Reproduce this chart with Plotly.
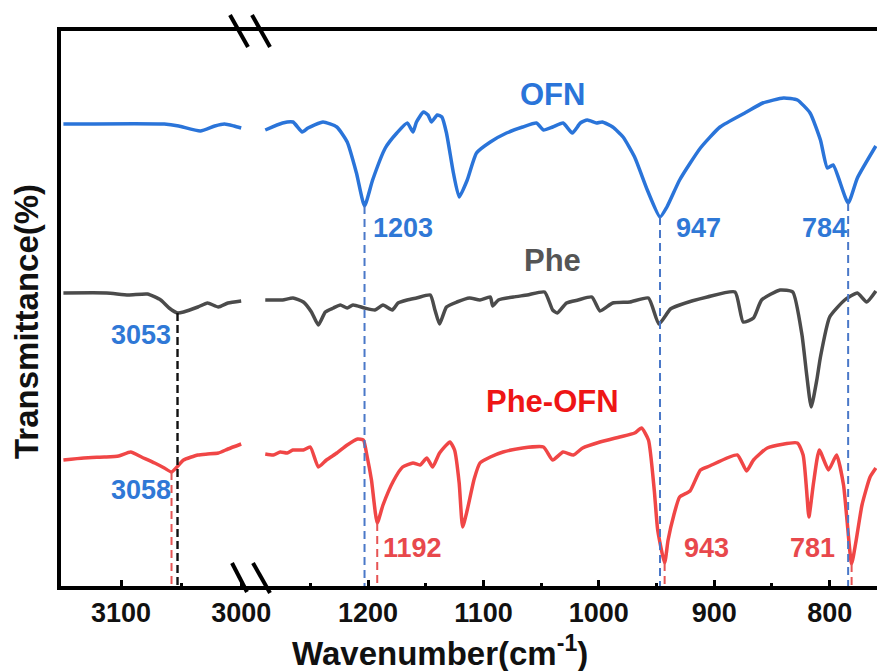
import numpy as np
import plotly.graph_objects as go

# ---- FTIR spectra, high-wavenumber window (cm-1) ----
ofn_hi_wn = [3148, 3064, 3052, 3034, 3022, 3014, 3006, 3000]
ofn_hi_t = [92.4, 92.4, 92.0, 91.0, 92.0, 92.4, 92.0, 91.6]

phe_hi_wn = [3148, 3112, 3094, 3078, 3067, 3060, 3053, 3048, 3036, 3028, 3019, 3011, 3000]
phe_hi_t = [58.6, 58.6, 58.2, 58.4, 57.2, 55.6, 54.6, 54.8, 55.8, 56.6, 55.8, 56.6, 57.0]

pheofn_hi_wn = [3148, 3131, 3114, 3102, 3092, 3083, 3072, 3064, 3058, 3052, 3048, 3036,
                3028, 3019, 3011, 3000]
pheofn_hi_t = [25.2, 25.6, 25.8, 26.0, 26.8, 25.8, 24.6, 23.6, 22.8, 24.2, 25.2, 26.2,
               26.4, 26.6, 27.4, 28.4]

# ---- fingerprint window (cm-1) ----
ofn_lo_wn = [1289, 1274, 1265, 1257, 1252, 1239, 1227, 1218, 1210, 1203, 1196, 1185,
             1175, 1166, 1161, 1158, 1152, 1148, 1145, 1140, 1136, 1132, 1126, 1121,
             1114, 1106, 1094, 1080, 1066, 1054, 1048, 1040, 1031, 1023, 1016, 1010,
             1002, 997, 988, 979, 969, 958, 947, 941, 930, 912, 895, 872, 858, 840,
             828, 817, 808, 802, 797, 784, 776, 760]
ofn_lo_t = [91.2, 92.6, 92.8, 90.8, 91.6, 92.8, 91.8, 88.8, 82.6, 76.0, 81.2, 87.6,
            90.6, 92.6, 90.8, 92.8, 94.8, 94.2, 92.8, 94.2, 93.8, 90.6, 82.6, 77.8,
            81.2, 86.6, 88.8, 90.6, 91.8, 92.6, 91.2, 91.8, 92.6, 90.6, 92.6, 93.2,
            92.6, 92.8, 91.8, 89.8, 85.8, 79.2, 73.8, 75.8, 81.2, 87.6, 91.8, 94.8,
            96.6, 97.6, 97.2, 94.6, 89.2, 83.6, 84.2, 76.6, 81.6, 88.0]

phe_lo_wn = [1289, 1274, 1265, 1256, 1249, 1243, 1237, 1230, 1224, 1218, 1213, 1203,
             1194, 1187, 1179, 1174, 1166, 1158, 1146, 1142, 1138, 1132, 1123, 1112,
             1103, 1094, 1092, 1087, 1074, 1062, 1047, 1040, 1036, 1028, 1018, 1006,
             999, 988, 973, 957, 948, 938, 930, 906, 882, 875, 866, 859, 843, 832,
             824, 820, 816, 811, 808, 800, 787, 776, 768, 760]
phe_lo_t = [57.2, 57.2, 57.6, 56.8, 54.8, 52.2, 54.8, 55.6, 56.2, 55.6, 56.2, 55.6,
            55.2, 56.2, 55.2, 56.6, 57.2, 57.6, 58.2, 55.2, 52.4, 55.8, 56.8, 57.6,
            57.2, 57.8, 56.0, 57.2, 57.8, 58.2, 58.8, 55.2, 54.6, 56.6, 57.2, 57.8,
            55.0, 56.6, 56.8, 57.6, 52.4, 55.4, 56.2, 57.8, 58.8, 52.8, 53.6, 57.2,
            59.2, 58.8, 50.2, 42.4, 35.8, 41.4, 45.8, 53.8, 57.2, 58.6, 56.8, 59.0]

pheofn_lo_wn = [1289, 1282, 1276, 1270, 1265, 1256, 1250, 1243, 1236, 1227, 1218, 1209,
                1204, 1201, 1197, 1192, 1187, 1178, 1170, 1161, 1155, 1149, 1144, 1138,
                1129, 1125, 1121, 1118, 1114, 1108, 1103, 1094, 1083, 1066, 1048, 1040,
                1031, 1022, 1014, 999, 982, 969, 963, 957, 952, 949, 943, 940, 935, 930,
                921, 912, 904, 880, 872, 866, 854, 828, 823, 820, 818, 814, 809, 801,
                794, 788, 785, 781, 777, 772, 765, 760]
pheofn_lo_t = [26.4, 26.2, 26.8, 26.6, 27.2, 27.2, 27.8, 23.8, 25.2, 26.6, 28.2, 29.4,
               29.2, 26.2, 21.2, 12.6, 16.2, 21.0, 23.8, 24.6, 24.2, 25.6, 23.8, 26.6,
               28.8, 27.2, 20.6, 11.8, 15.2, 21.4, 24.6, 25.8, 26.8, 27.6, 27.8, 25.2,
               26.8, 26.2, 27.6, 28.8, 29.8, 30.6, 31.6, 29.2, 19.2, 11.2, 4.6, 9.2,
               14.2, 17.8, 19.0, 23.2, 24.0, 26.2, 23.0, 25.2, 27.6, 28.6, 26.2, 19.2,
               13.8, 20.6, 27.2, 23.2, 26.2, 20.2, 13.2, 4.4, 9.2, 16.2, 21.8, 23.6]

# tick labels of the two windows
hi_ticks = [3100, 3000]
lo_ticks = [1200, 1100, 1000, 900, 800]

# marked band positions (cm-1)
ofn_peaks = [1203, 947, 784]
phe_peaks = [3053]
pheofn_peaks = [3058, 1192, 943, 781]

BLUE = "#2a74d9"
GRAY = "#4b4b4b"
RED = "#f04646"
BLUE_TXT = "#2f78d6"
RED_TXT = "#e8484c"
FONT = "Liberation Sans, Arial, sans-serif"

fig = go.Figure()

series = [
    (ofn_hi_wn, ofn_hi_t, ofn_lo_wn, ofn_lo_t, BLUE),
    (phe_hi_wn, phe_hi_t, phe_lo_wn, phe_lo_t, GRAY),
    (pheofn_hi_wn, pheofn_hi_t, pheofn_lo_wn, pheofn_lo_t, RED),
]
for hw, ht, lw, lt, col in series:
    line = dict(color=col, width=3.5, shape="spline", smoothing=0.5)
    fig.add_trace(go.Scatter(x=hw, y=ht, mode="lines", line=line,
                             xaxis="x", yaxis="y", showlegend=False))
    fig.add_trace(go.Scatter(x=lw, y=lt, mode="lines", line=line,
                             xaxis="x2", yaxis="y", showlegend=False))


def band_value(wn, hw, ht, lw, lt):
    if wn > 2000:
        return float(np.interp(wn, hw[::-1], ht[::-1]))
    return float(np.interp(wn, lw[::-1], lt[::-1]))


# dashed guide lines from each marked band down to the axis
guides = [
    (ofn_peaks, series[0], "#4a78c8", "8px,5px", 2),
    (phe_peaks, series[1], "#111111", "8px,4px", 2.4),
    (pheofn_peaks, series[2], "#e65454", "8px,5px", 2),
]
for peaks, s, col, dash, w in guides:
    for wn in peaks:
        v = band_value(wn, *s[:4])
        fig.add_trace(go.Scatter(
            x=[wn, wn], y=[v, 0], mode="lines",
            line=dict(color=col, width=w, dash=dash),
            xaxis="x" if wn > 2000 else "x2", yaxis="y", showlegend=False))

# band labels: (anchor, x shift, y position, colour)
label_style = {
    1203: ("left", 6, 71.6, BLUE_TXT),
    947: ("left", 14, 71.6, BLUE_TXT),
    784: ("right", 1, 71.6, BLUE_TXT),
    3053: ("right", -5, 50.2, BLUE_TXT),
    3058: ("right", 1, 19.2, BLUE_TXT),
    1192: ("left", 4, 7.6, RED_TXT),
    943: ("left", 17, 7.6, RED_TXT),
    781: ("right", -15, 7.6, RED_TXT),
}
for wn in ofn_peaks + phe_peaks + pheofn_peaks:
    anchor, sh, yy, col = label_style[wn]
    fig.add_annotation(x=wn, y=yy, xref="x" if wn > 2000 else "x2", yref="y",
                       text=f"<b>{wn}</b>", showarrow=False, xanchor=anchor,
                       yanchor="middle", xshift=sh,
                       font=dict(family=FONT, size=27, color=col))

# sample names
for name, yy, col in [("OFN", 98.4, BLUE), ("Phe", 65.2, "#555555"),
                      ("Phe-OFN", 37.0, "#ee1515")]:
    fig.add_annotation(x=1040, y=yy, xref="x2", yref="y", text=f"<b>{name}</b>",
                       showarrow=False, xanchor="center", yanchor="middle",
                       font=dict(family=FONT, size=31, color=col))

# axis titles
fig.add_annotation(x=0.4645, y=0, xref="paper", yref="paper", yshift=-65,
                   text="<b>Wavenumber(cm<sup>-1</sup>)</b>", showarrow=False,
                   xanchor="center", yanchor="middle",
                   font=dict(family=FONT, size=33, color="#111111"))
fig.add_annotation(x=0, y=0.4757, xref="paper", yref="paper", xshift=-34,
                   text="<b>Transmittance(%)</b>", showarrow=False, textangle=-90,
                   xanchor="center", yanchor="middle",
                   font=dict(family=FONT, size=33, color="#111111"))

# axis break marks
split = (252 - 61) / 816
breaks = [
    (1, -22, 16, -4, -16), (1, 0, 16, 18, -16),
    (0, -20, 23, -5, -6), (0, 1, 23, 18, -7),
]
for ya, x0, y0, x1, y1 in breaks:
    fig.add_shape(type="line", xref="paper", yref="paper",
                  xsizemode="pixel", ysizemode="pixel",
                  xanchor=split, yanchor=ya, x0=x0, y0=y0, x1=x1, y1=y1,
                  line=dict(color="black", width=4))

xcommon = dict(showline=True, linecolor="black", linewidth=4, mirror=True,
               showgrid=False, zeroline=False, ticks="inside", ticklen=6,
               tickwidth=3, tickcolor="black", automargin=False,
               tickfont=dict(family=FONT, size=27, color="#111111", weight="bold"),
               minor=dict(dtick=50, ticks="inside", ticklen=3, tickwidth=3,
                          tickcolor="black"),
               anchor="y")

fig.update_layout(
    width=877, height=671, autosize=False,
    margin=dict(l=61, r=0, t=31, b=85, autoexpand=False),
    plot_bgcolor="white", paper_bgcolor="white",
    xaxis=dict(domain=[0, split], range=[3150, 2991], tickvals=hi_ticks,
               **xcommon),
    xaxis2=dict(domain=[split, 1], range=[1300.5, 759], tickvals=lo_ticks,
                **xcommon),
    yaxis=dict(range=[0, 111], showline=True, linecolor="black", linewidth=4,
               showgrid=False, zeroline=False, ticks="", showticklabels=False,
               automargin=False),
)

fig.write_html("out.html")
